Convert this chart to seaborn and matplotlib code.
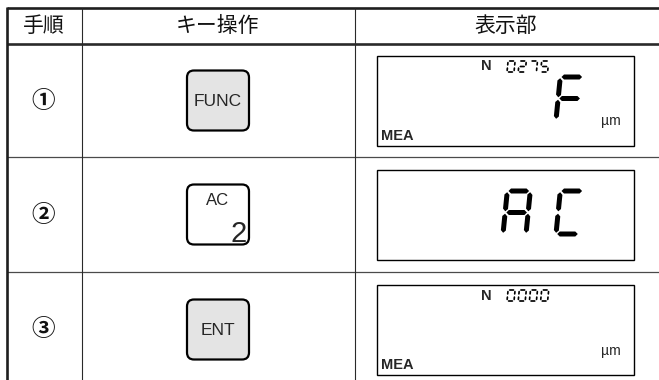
import numpy as np
import seaborn as sns
import matplotlib.pyplot as plt
from matplotlib.patches import FancyBboxPatch, Rectangle, Polygon

# table content
headers = ['手順', 'キー操作', '表示部']
steps = ['①', '②', '③']
key_main = ['FUNC', '2', 'ENT']
key_sub = ['', 'AC', '']
key_fill = ['#e4e4e4', 'white', '#e4e4e4']
disp_count = ['0275', '', '0000']
disp_big = ['F', 'AC', '']
disp_unit = ['µm', '', 'µm']
disp_mode = ['MEA', '', 'MEA']

# seven segment map
SEGMENTS = {
    '0': 'abcdef', '2': 'abdeg', '5': 'acdfg', '7': 'abc',
    'A': 'abcefg', 'C': 'adef', 'F': 'aefg',
}

col_edges = [7, 82, 355, 659]
row_edges = [8, 44, 157, 272, 387]

sns.set_style("white")
plt.rcParams['font.family'] = ['Noto Sans CJK JP', 'DejaVu Sans']
latin = ['Liberation Sans', 'DejaVu Sans']


def draw_digit(ax, ch, x, y_top, w, h, t, slant=0.1, gap=1.0):
    # corners of the digit, slanted like lcd glyphs
    def pt(px, py):
        return np.array([x + px + slant * (h - py), y_top + py])
    tl, tr = pt(0, 0), pt(w, 0)
    ml, mr = pt(0, h / 2), pt(w, h / 2)
    bl, br = pt(0, h), pt(w, h)
    seg_ends = {'a': (tl, tr), 'b': (tr, mr), 'c': (mr, br), 'd': (bl, br),
                'e': (ml, bl), 'f': (tl, ml), 'g': (ml, mr)}
    for s in SEGMENTS[ch]:
        p1, p2 = seg_ends[s]
        u = (p2 - p1) / np.linalg.norm(p2 - p1)
        n = np.array([-u[1], u[0]])
        p1 = p1 + u * gap
        p2 = p2 - u * gap
        hw = t / 2
        poly = [p1, p1 + u * hw + n * hw, p2 - u * hw + n * hw, p2,
                p2 - u * hw - n * hw, p1 + u * hw - n * hw]
        ax.add_patch(Polygon(poly, closed=True, color='black', lw=0))


fig, ax = plt.subplots(figsize=(6.59, 3.80), dpi=100)
fig.subplots_adjust(0, 0, 1, 1)
ax.set_xlim(0, 659)
ax.set_ylim(380, 0)
ax.axis('off')

# grid of the table
ax.hlines(row_edges[0], col_edges[0], 659, color='#1e1e1e', lw=1.9)
ax.hlines(row_edges[1], col_edges[0], 659, color='#2a2a2a', lw=1.9)
ax.hlines(row_edges[2:4], col_edges[0], 659, color='#4a4a4a', lw=0.9)
ax.vlines(col_edges[0], row_edges[0] - 1, 380, color='#1e1e1e', lw=1.9)
ax.vlines(col_edges[1:3], row_edges[0], 380, color='#2a2a2a', lw=0.8)

for i, h in enumerate(headers):
    ax.text((col_edges[i] + col_edges[i + 1]) / 2 - 1, (row_edges[0] + row_edges[1]) / 2,
            h, ha='center', va='center', fontsize=15, color='#111111')

for r in range(len(steps)):
    yc = (row_edges[r + 1] + row_edges[r + 2]) / 2
    ax.text(43, yc, steps[r], ha='center', va='center', fontsize=17,
            fontweight='bold', color='#111111')

    # key
    kx, kw, kh = 187, 62, 60
    ax.add_patch(FancyBboxPatch((kx, yc - kh / 2), kw, kh,
                                boxstyle='round,pad=0,rounding_size=7',
                                fc=key_fill[r], ec='black', lw=1.6))
    if key_sub[r]:
        ax.text(kx + kw / 2, yc - 14, key_sub[r], ha='center', va='center',
                fontsize=12, family=latin)
        ax.text(kx + kw - 2, yc + 27, key_main[r], ha='right', va='baseline',
                fontsize=21, family=latin)
    else:
        ax.text(kx + kw / 2, yc + 1, key_main[r], ha='center', va='center',
                fontsize=12.5, family=latin)

    # lcd display
    dx0, dx1, dh = 377, 634, 90
    dtop = yc - dh / 2
    ax.add_patch(Rectangle((dx0, dtop), dx1 - dx0, dh, fc='white', ec='black', lw=1.0))
    if disp_count[r]:
        ax.text(486.5, dtop + 11, 'N', ha='center', va='center', fontsize=10.5,
                fontweight='bold', family=latin)
        for i, ch in enumerate(disp_count[r]):
            draw_digit(ax, ch, 507 + i * 11.2, dtop + 5.5, 7, 11, 1.7, slant=0.1, gap=0.6)
    for i, ch in enumerate(disp_big[r]):
        xi = 556 - (len(disp_big[r]) - 1 - i) * 53
        draw_digit(ax, ch, xi, dtop + 21.5, 23, 43, 5, slant=0.1, gap=1.2)
    if disp_unit[r]:
        ax.text(611, dtop + dh - 24, disp_unit[r], ha='center', va='center',
                fontsize=10, family=latin)
    if disp_mode[r]:
        ax.text(381, dtop + dh - 9.5, disp_mode[r], ha='left', va='center',
                fontsize=10.5, fontweight='bold', family=latin)

fig.savefig('out.png', dpi=100)
